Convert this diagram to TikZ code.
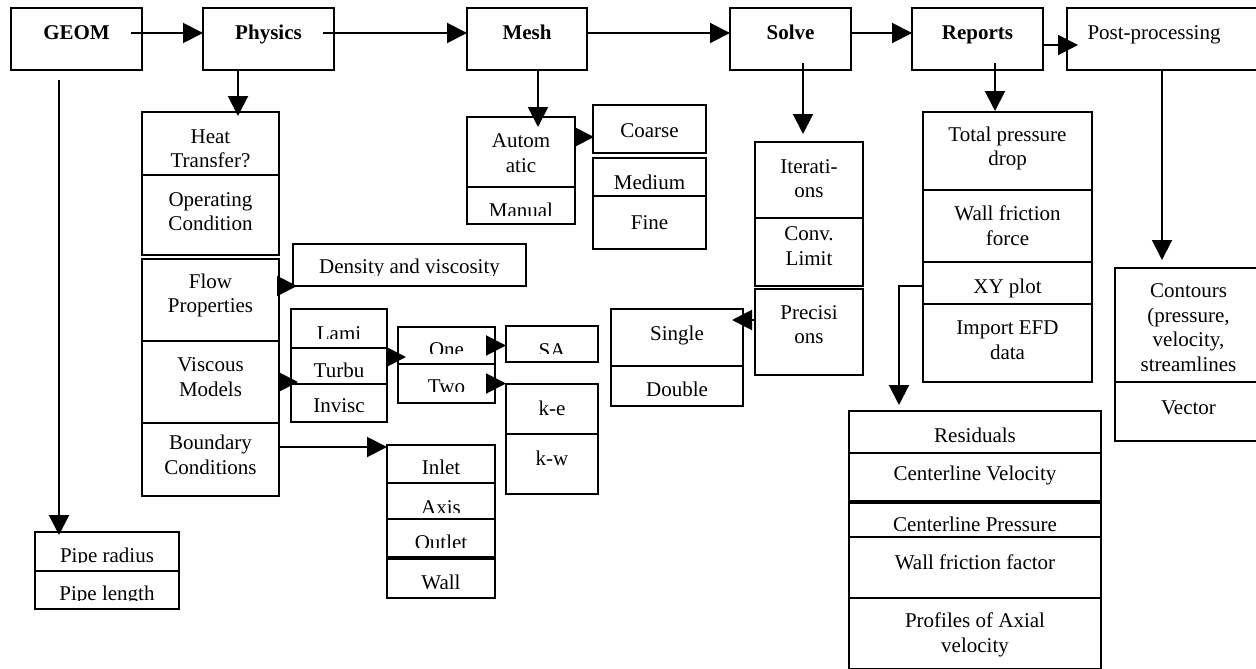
\documentclass[tikz,border=0pt]{standalone}
\usepackage{fontspec}
\setmainfont{Liberation Serif}
\usetikzlibrary{arrows.meta,calc}
\tikzset{
  cellst/.style={draw, line width=2pt, inner sep=0pt, outer sep=0pt},
  txtm/.style={font=\fontsize{21}{24.5}\selectfont, align=center, inner sep=0pt},
  txt/.style={font=\fontsize{21}{24.5}\selectfont, inner sep=0pt, text height=14.5pt, text depth=4.5pt},
  txtb/.style={font=\fontsize{21}{24.5}\selectfont\bfseries, inner sep=0pt, text height=14.5pt, text depth=4.5pt},
  arr/.style={line width=2pt, -{Triangle[length=20pt,width=20pt]}},
}
% style, name, x1, y1, x2, y2, text y, text
\newcommand\cellbox[8]{%
  \node[cellst, minimum width={#5-#3}, minimum height={#6-#4}] (#2) at ({(#3+#5)/2},{(#4+#6)/2}) {};
  \node[#1] (#2t) at ({(#3+#5)/2},#7) {#8};}
% style, name, x1, y1, x2, y2, text y, cut y, text
\newcommand\cellclip[9]{%
  \node[cellst, minimum width={#5-#3}, minimum height={#6-#4}] (#2) at ({(#3+#5)/2},{(#4+#6)/2}) {};
  \begin{scope}
    \clip (#3,#4) rectangle (#5,#8);
    \node[#1] (#2t) at ({(#3+#5)/2},#7) {#9};
  \end{scope}}
\begin{document}
\begin{tikzpicture}[x=1pt,y=-1pt]
\fill[white] (0,0) rectangle (1256,669);
\useasboundingbox (0,0) rectangle (1256,669);

% top row
\cellbox{txtb}{geom}{11}{8}{142}{70}{35}{GEOM}
\cellbox{txtb}{physics}{203}{8}{334}{70}{35}{Physics}
\cellbox{txtb}{mesh}{467}{8}{587}{70}{35}{Mesh}
\cellbox{txtb}{solve}{730}{8}{851}{70}{35}{Solve}
\cellbox{txtb}{reports}{912}{8}{1043}{70}{35}{Reports}
\node[cellst, minimum width=195, minimum height=62] (post) at (1164.5,39) {};
\node[txt] (postt) at (1154,35) {Post-processing};

% GEOM
\cellclip{txt}{pipe1}{35}{532}{179}{571}{557}{562}{Pipe radius}
\cellclip{txt}{pipe2}{35}{571}{179}{609}{595}{600}{Pipe length}

% Physics
\cellclip{txtm}{heat}{142}{112}{279}{175}{149}{166}{Heat\\Transfer?}
\cellbox{txtm}{oper}{142}{175}{279}{255}{211.5}{Operating\\Condition}
\cellbox{txtm}{flow}{142}{259}{279}{341}{295.5}{Flow\\Properties}
\cellbox{txtm}{visc}{142}{341}{279}{423}{377}{Viscous\\Models}
\cellbox{txtm}{bound}{142}{423}{279}{496}{455}{Boundary\\Conditions}
\cellclip{txt}{density}{293}{244}{526}{286}{268}{275}{Density and viscosity}
\cellclip{txt}{lami}{291}{309}{387}{348}{335}{338}{Lami}
\cellclip{txt}{turbu}{291}{348}{387}{384}{372}{377}{Turbu}
\cellbox{txt}{invisc}{291}{384}{387}{422}{407}{Invisc}
\cellclip{txt}{one}{398}{327}{495}{364}{351}{353}{One}
\cellclip{txt}{two}{398}{364}{495}{403}{388}{391}{Two}
\cellclip{txt}{sa}{506}{326}{598}{362}{352}{353}{SA}
\cellbox{txt}{ke}{506}{384}{598}{434}{410}{k-e}
\cellbox{txt}{kw}{506}{434}{598}{494}{460}{k-w}
\cellclip{txt}{inlet}{387}{445}{495}{483}{469}{473}{Inlet}
\cellclip{txt}{axis}{387}{483}{495}{519}{509}{512}{Axis}
\cellclip{txt}{outlet}{387}{519}{495}{557}{544}{547}{Outlet}
\cellclip{txt}{wall}{387}{559}{495}{598}{584}{588}{Wall}

% Mesh
\cellbox{txtm}{auto}{467}{117}{575}{187}{153}{Autom\\atic}
\cellclip{txt}{manual}{467}{187}{575}{224}{212}{215}{Manual}
\cellbox{txt}{coarse}{593}{105}{706}{153}{132}{Coarse}
\cellbox{txt}{medium}{593}{158}{706}{196}{184}{Medium}
\cellbox{txt}{fine}{593}{196}{706}{249}{224}{Fine}

% Solve
\cellbox{txtm}{iter}{755}{142}{863}{218}{178.5}{Iterati-\\ons}
\cellbox{txtm}{conv}{755}{218}{863}{286}{246}{Conv.\\Limit}
\cellbox{txtm}{precis}{755}{289}{863}{375}{324.5}{Precisi\\ons}
\cellbox{txt}{single}{611}{309}{743}{366}{335}{Single}
\cellbox{txt}{double}{611}{366}{743}{406}{391}{Double}

% Reports
\cellbox{txtm}{total}{923}{112}{1092}{190}{148.5}{Total pressure\\drop}
\cellbox{txtm}{wallf}{923}{190}{1092}{262}{225.5}{Wall friction\\force}
\cellbox{txt}{xy}{923}{262}{1092}{304}{288}{XY plot}
\cellbox{txtm}{import}{923}{304}{1092}{382}{340}{Import EFD\\data}
\cellbox{txt}{resid}{849}{411}{1101}{453}{437}{Residuals}
\cellbox{txt}{cvel}{849}{453}{1101}{501}{475}{Centerline Velocity}
\cellclip{txt}{cpres}{849}{503}{1101}{537}{526}{533}{Centerline Pressure}
\cellbox{txt}{wff}{849}{537}{1101}{598}{564}{Wall friction factor}
\cellbox{txtm}{prof}{849}{598}{1101}{669}{635}{Profiles of Axial\\velocity}

% Post-processing
\cellbox{txtm}{cont}{1115}{268}{1262}{382}{327.5}{Contours\\(pressure,\\velocity,\\streamlines}
\cellbox{txt}{vector}{1115}{382}{1262}{441}{409}{Vector}

% main flow arrows
\draw[arr] ($(geom.east |- geomt)+(-11,-2)$) -- ($(physics.west |- geomt)+(0,-2)$);
\draw[arr] ($(physics.east |- physicst)+(-11,-2)$) -- ($(mesh.west |- physicst)+(0,-2)$);
\draw[arr] ($(mesh.east |- mesht)+(0,-2)$) -- ($(solve.west |- mesht)+(0,-2)$);
\draw[arr] ($(solve.east |- solvet)+(0,-2)$) -- ($(reports.west |- solvet)+(0,-2)$);
\draw[arr] ($(reports.east)+(0,6)$) -- ($(post.west)+(11,6)$);

% vertical arrows
\coordinate (g0) at ($(geom.south)+(-17.5,10)$);
\draw[arr] (g0) -- ($(g0 |- pipe1.north)+(0,3)$);
\coordinate (p0) at ($(physics.south)+(-30.5,0)$);
\draw[arr] (p0) -- ($(p0 |- heat.north)+(0,4)$);
\coordinate (m0) at ($(mesh.south)+(11,0)$);
\draw[arr] (m0) -- ($(m0 |- auto.north)+(0,10)$);
\coordinate (s0) at ($(solve.south)+(12.5,-7)$);
\draw[arr] (s0) -- ($(s0 |- iter.north)+(0,-8)$);
\coordinate (r0) at ($(reports.south)+(17.5,-7)$);
\draw[arr] (r0) -- ($(r0 |- total.north)+(0,-1)$);
\coordinate (q0) at ($(post.south)+(-2.5,0)$);
\draw[arr] (q0) -- ($(q0 |- cont.north)+(0,-8)$);
\draw[arr] ($(xy.west)+(0,3)$) -| ($(resid.north west)+(50,-6)$);

% short side arrows
\coordinate (a0) at ($(auto.east)+(0,-15)$);
\draw[arr] (a0) -- ($(a0 -| coarse.west)+(1,0)$);
\coordinate (f0) at ($(flow.east)+(0,-14)$);
\draw[arr] (f0) -- ($(f0 -| density.west)+(4,0)$);
\draw[arr] (visc.east) -- ($(visc.east -| lami.west)+(7,0)$);
\coordinate (t0) at ($(turbu.east)+(0,-9)$);
\draw[arr] (t0) -- ($(t0 -| one.west)+(8,0)$);
\coordinate (o0) at ($(one.east)+(-9,0)$);
\draw[arr] (o0) -- (o0 -| sa.west);
\coordinate (w0) at ($(two.east)+(-9,0)$);
\draw[arr] (w0) -- (w0 -| ke.west);
\coordinate (b0) at ($(bound.east)+(0,-12.5)$);
\draw[arr] (b0) -- (b0 -| inlet.west);
\coordinate (c0) at ($(precis.west)+(0,-12)$);
\draw[arr] (c0) -- ($(c0 -| single.east)+(-11,0)$);
\end{tikzpicture}
\end{document}
